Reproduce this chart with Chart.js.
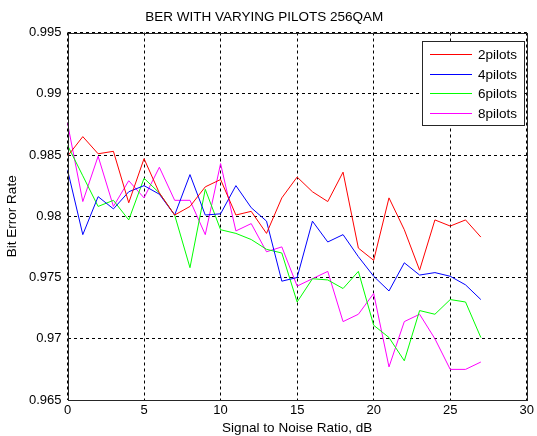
<!DOCTYPE html>
<html>
<head>
<meta charset="utf-8">
<script src="https://cdn.jsdelivr.net/npm/chart.js@4/dist/chart.umd.min.js"></script>
<style>
  html, body { margin: 0; padding: 0; background: #fff; }
  #wrap { width: 537px; height: 436px; position: relative; }
</style>
</head>
<body>
<div id="wrap"><canvas id="c"></canvas></div>
<script>
const snr = [0,1,2,3,4,5,6,7,8,9,10,11,12,13,14,15,16,17,18,19,20,21,22,23,24,25,26,27];
const pilots2 = [0.9849,0.9865,0.9851,0.9853,0.9811,0.9847,0.9819,0.9801,0.9808,0.9824,0.9830,0.9801,0.9804,0.9786,0.9815,0.9832,0.9820,0.9812,0.9836,0.9774,0.9764,0.9815,0.9789,0.9756,0.9797,0.9792,0.9797,0.9783];
const pilots4 = [0.9838,0.9785,0.9816,0.9806,0.9820,0.9825,0.9818,0.9801,0.9834,0.9801,0.9802,0.9825,0.9807,0.9796,0.9747,0.9750,0.9796,0.9779,0.9785,0.9767,0.9751,0.9739,0.9762,0.9752,0.9754,0.9751,0.9744,0.9732];
const pilots6 = [0.9858,0.9833,0.9808,0.9813,0.9797,0.9831,0.9819,0.9801,0.9758,0.9822,0.9789,0.9786,0.9781,0.9773,0.9770,0.9730,0.9749,0.9748,0.9741,0.9755,0.9711,0.9701,0.9682,0.9723,0.9720,0.9732,0.9730,0.9701];
const pilots8 = [0.9876,0.9812,0.9849,0.9808,0.9829,0.9815,0.9840,0.9813,0.9813,0.9785,0.9843,0.9788,0.9794,0.9771,0.9775,0.9743,0.9749,0.9755,0.9714,0.9720,0.9737,0.9677,0.9714,0.9720,0.9700,0.9675,0.9675,0.9681];
const seriesNames = ['2pilots','4pilots','6pilots','8pilots'];
const xTickValues = [0,5,10,15,20,25,30];
const xTickLabels = ['0','5','10','15','20','25','30'];
const yTickValues = [0.965,0.97,0.975,0.98,0.985,0.99,0.995];
const yTickLabels = ['0.965','0.97','0.975','0.98','0.985','0.99','0.995'];
const titleText = 'BER WITH VARYING PILOTS 256QAM';
const xTitle = 'Signal to Noise Ratio, dB';
const yTitle = 'Bit Error Rate';

const colors = ['#ff0000','#0000ff','#00ff00','#ff00ff'];
const allSeries = [pilots2, pilots4, pilots6, pilots8];
const FONT = '"Liberation Sans", Arial, sans-serif';

const datasets = allSeries.map((s, i) => ({
  label: seriesNames[i],
  data: snr.map((x, j) => ({ x: x, y: s[j] })),
  borderColor: colors[i],
  backgroundColor: colors[i],
  borderWidth: 1,
  pointRadius: 0,
  tension: 0,
  fill: false
}));

const framePlugin = {
  id: 'frameLegend',
  afterDraw(chart) {
    const ctx = chart.ctx;
    const a = chart.chartArea;
    ctx.save();
    ctx.strokeStyle = '#262626';
    ctx.lineWidth = 1;
    ctx.strokeRect(Math.round(a.left) + 0.5, Math.round(a.top) + 0.5,
                   Math.round(a.right) - Math.round(a.left), Math.round(a.bottom) - Math.round(a.top));
    // legend box inside plot (top-right)
    const bx = 422.5, by = 41.5, bw = 102, bh = 84;
    ctx.fillStyle = '#ffffff';
    ctx.fillRect(bx, by, bw, bh);
    ctx.strokeStyle = '#262626';
    ctx.strokeRect(bx, by, bw, bh);
    ctx.font = '13.5px ' + FONT;
    ctx.textBaseline = 'middle';
    ctx.textAlign = 'left';
    chart.data.datasets.forEach((ds, i) => {
      const yy = Math.round(by + 12.5 + i * 19.6) + 0.5;
      ctx.strokeStyle = ds.borderColor;
      ctx.beginPath();
      ctx.moveTo(430, yy);
      ctx.lineTo(472, yy);
      ctx.stroke();
      ctx.fillStyle = '#000';
      ctx.fillText(ds.label, 478, yy + 0.5);
    });
    ctx.restore();
  }
};

new Chart(document.getElementById('c'), {
  type: 'line',
  data: { datasets: datasets },
  options: {
    responsive: true,
    maintainAspectRatio: false,
    animation: false,
    layout: { padding: { left: 0, right: 8.5, top: 0, bottom: 0 } },
    plugins: {
      legend: { display: false },
      tooltip: { enabled: false },
      title: {
        display: true,
        text: titleText,
        color: '#000',
        font: { family: FONT, size: 13.5, weight: 'normal' },
        padding: { top: 9.5, bottom: 6.8 }
      }
    },
    scales: {
      x: {
        type: 'linear',
        min: 0, max: 30,
        afterBuildTicks(scale) { scale.ticks = xTickValues.map(v => ({ value: v })); },
        afterFit(scale) { scale.height = 36; },
        ticks: {
          color: '#000',
          font: { family: FONT, size: 13 },
          padding: 3,
          maxRotation: 0,
          callback: (v, i) => xTickLabels[i]
        },
        grid: { color: '#000', borderDash: [3, 3], drawTicks: false, lineWidth: 1 },
        border: { display: false, dash: [3,3] },
        title: {
          display: true, text: xTitle, color: '#000',
          font: { family: FONT, size: 13.5 },
          padding: { top: 0, bottom: 0 }
        }
      },
      y: {
        type: 'linear',
        min: 0.965, max: 0.995,
        afterBuildTicks(scale) { scale.ticks = yTickValues.map(v => ({ value: v })); },
        afterFit(scale) { scale.width = 67.5; },
        ticks: {
          color: '#000',
          font: { family: FONT, size: 13 },
          padding: 6,
          callback: (v, i) => yTickLabels[i]
        },
        grid: { color: '#000', borderDash: [3, 3], drawTicks: false, lineWidth: 1 },
        border: { display: false, dash: [3,3] },
        title: {
          display: true, text: yTitle, color: '#000',
          font: { family: FONT, size: 13.5 },
          padding: { top: 4, bottom: 0 }
        }
      }
    }
  },
  plugins: [framePlugin]
});
</script>
</body>
</html>
